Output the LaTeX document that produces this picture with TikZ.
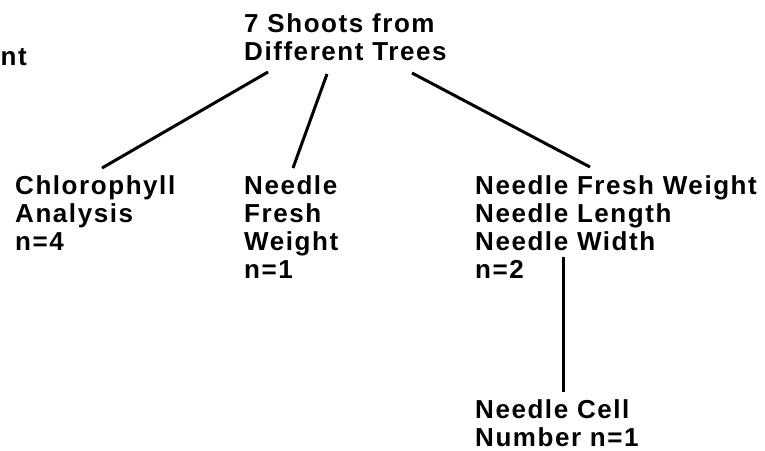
\documentclass[tikz,border=0pt]{standalone}
\usepackage{fontspec}
\setmainfont{Liberation Sans}[LetterSpace=6]
\begin{document}
\begin{tikzpicture}[x=1pt,y=-1pt,
  txt/.style={anchor=north west, inner sep=0pt, align=left,
    font=\fontsize{26}{28}\selectfont\bfseries},
  link/.style={line width=3pt}]
\useasboundingbox (0,0) rectangle (765,450);
\node[txt] (title) at (244,13) {7 Shoots from\\Different Trees};
\node[txt, anchor=base west] (cut) at (0.5,65) {nt};
\node[txt] (chl) at (15,175) {Chlorophyll\\Analysis\\n=4};
\node[txt] (nfw) at (244,175) {Needle\\Fresh\\Weight\\n=1};
\node[txt] (nall) at (475,175) {Needle Fresh Weight\\Needle Length\\Needle Width\\n=2};
\node[txt] (cell) at (475,399) {Needle Cell\\Number n=1};
\coordinate (t1) at (268,72);
\coordinate (t2) at (327,74);
\coordinate (t3) at (412,73);
\coordinate (c1) at (102,168);
\coordinate (c2) at (293,168);
\coordinate (c3) at (590,167);
\coordinate (v1) at (563,257);
\coordinate (v2) at (563,392);
\draw[link] (t1) -- (c1);
\draw[link] (t2) -- (c2);
\draw[link] (t3) -- (c3);
\draw[link] (v1) -- (v2);
\end{tikzpicture}
\end{document}
